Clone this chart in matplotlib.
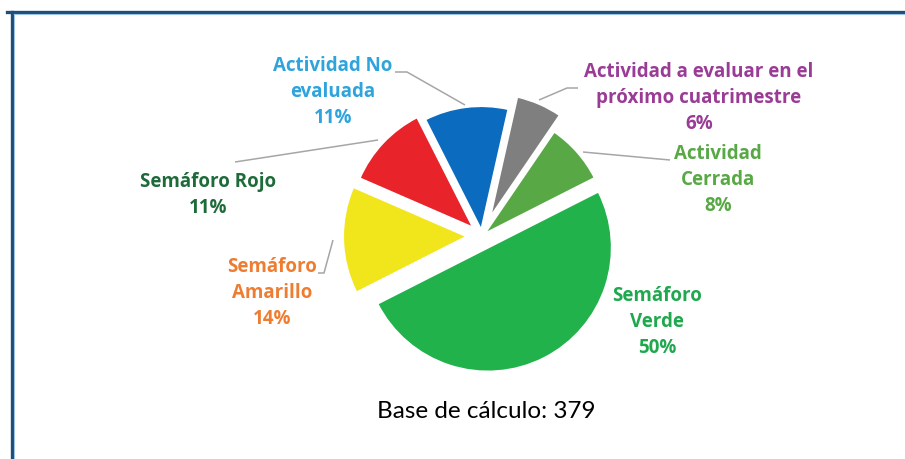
import matplotlib.pyplot as plt
from matplotlib.lines import Line2D

# data
labels = ['Actividad a evaluar en el\npróximo cuatrimestre', 'Actividad\nCerrada',
          'Semáforo\nVerde', 'Semáforo\nAmarillo', 'Semáforo Rojo', 'Actividad No\nevaluada']
pcts = [6, 8, 50, 14, 11, 11]
slice_colors = ['#7f7f7f', '#58a846', '#21b24b', '#f1e51b', '#e8232a', '#0b6bbf']
text_colors = ['#9a3b96', '#58a846', '#1fa84d', '#ee7d31', '#1e6b3a', '#2ea3dc']
base = 379

W, H = 905, 459
fig = plt.figure(figsize=(W / 100, H / 100), dpi=100, facecolor='white')
ax = fig.add_axes([0, 0, 1, 1])

# pie in pixel units; explode offsets are in px too
R = 124
cx, cy = 482, H - 236
explode_px = [20, 3, 13, 15, 12, 6]
ax.pie(pcts, colors=slice_colors, startangle=77.3, counterclock=False,
       explode=explode_px, radius=R, center=(cx, cy),
       wedgeprops=dict(edgecolor='white', linewidth=1.5))
ax.set_xlim(0, W)
ax.set_ylim(0, H)
ax.set_aspect('equal')
ax.axis('off')

# label positions (image px, centre of text block)
label_pos = [(699, 98), (718, 180), (657, 322), (272, 293), (208, 195), (333, 92)]
for lab, p, tc, (x, y) in zip(labels, pcts, text_colors, label_pos):
    ax.text(x, H - y, f'{lab}\n{p}%', ha='center', va='center', color=tc,
            fontsize=13.5, fontweight='bold', family='Open Sans', linespacing=1.38)

# leader lines (image px)
leaders = [
    [(578, 88), (567, 88), (539, 100)],
    [(670, 160), (583, 152)],
    [(235, 162), (378, 140)],
    [(318, 273), (324, 273), (333, 240)],
    [(395, 72), (407, 72), (465, 105)],
]
for pts in leaders:
    xs = [q[0] for q in pts]
    ys = [H - q[1] for q in pts]
    ax.plot(xs, ys, color='#a6a6a6', lw=1.1, solid_capstyle='butt')

ax.text(486, H - 412, f'Base de cálculo: {base}', ha='center', va='center',
        fontsize=17.5, family='Lato', color='black')

# frame
top = 12
fig.add_artist(Line2D([7 / W, 1], [1 - top / H, 1 - top / H], color='#1f4e79', lw=2.4,
                      transform=fig.transFigure))
fig.add_artist(Line2D([12 / W, 12 / W], [0, 1 - top / H], color='#1f4e79', lw=2.4,
                      transform=fig.transFigure))
fig.add_artist(Line2D([14 / W, 1], [1 - (top + 2) / H, 1 - (top + 2) / H], color='#9dc3e6',
                      lw=0.8, transform=fig.transFigure))
fig.add_artist(Line2D([14 / W, 14 / W], [0, 1 - (top + 2) / H], color='#9dc3e6', lw=0.8,
                      transform=fig.transFigure))

fig.savefig('out.png', dpi=100, facecolor='white')
